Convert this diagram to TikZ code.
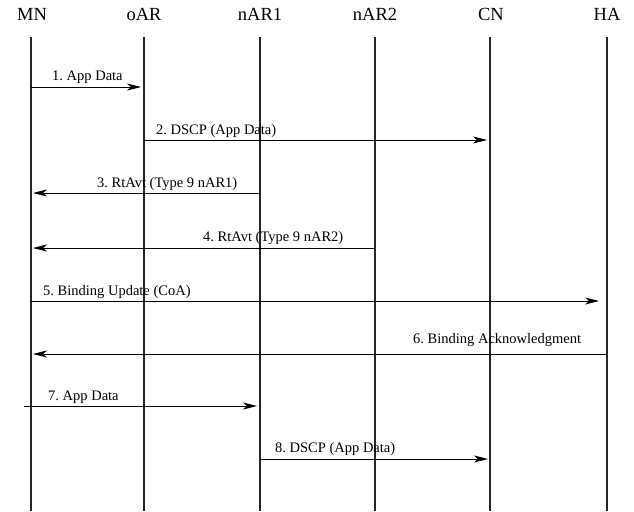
\documentclass[tikz,border=0pt]{standalone}
\usepackage{fontspec}
\setmainfont{Liberation Serif}
\usetikzlibrary{arrows.meta}
\frenchspacing
\begin{document}
\begin{tikzpicture}[x=1pt,y=-1pt,
  actor/.style={font=\fontsize{18.5}{20}\selectfont, anchor=base, inner sep=0pt},
  lifeline/.style={line width=1.3pt, draw=black!85},
  msg/.style={line width=0.9pt, -{Stealth[length=14pt,width=7pt,inset=4pt]}},
  msglabel/.style={font=\frenchspacing\fontsize{14.5}{16}\selectfont, anchor=base west, inner sep=0pt}]
\useasboundingbox (0,0) rectangle (634,511);

% participants
\node[actor] (mn)   at (32,21)  {MN};
\node[actor] (oar)  at (144,21) {oAR};
\node[actor] (nar1) at (260,21) {nAR1};
\node[actor] (nar2) at (375,21) {nAR2};
\node[actor] (cn)   at (491,21) {CN};
\node[actor] (ha)   at (607,21) {HA};

% lifelines
\foreach \n/\x in {mn/31,oar/144,nar1/260,nar2/375,cn/490,ha/607}{
  \coordinate (\n top) at (\x,37);
  \coordinate (\n bot) at (\x,511);
  \draw[lifeline] (\n top) -- (\n bot);
}

% message end points
\coordinate (m1a) at (31,87);   \coordinate (m1b) at (141,87);
\coordinate (m2a) at (144,140); \coordinate (m2b) at (487,140);
\coordinate (m3a) at (260,193); \coordinate (m3b) at (33,193);
\coordinate (m4a) at (375,248); \coordinate (m4b) at (33,248);
\coordinate (m5a) at (31,301);  \coordinate (m5b) at (599,301);
\coordinate (m6a) at (607,354); \coordinate (m6b) at (33,354);
\coordinate (m7a) at (24,406);  \coordinate (m7b) at (257,406);
\coordinate (m8a) at (260,459); \coordinate (m8b) at (488,459);

% messages
\draw[msg] (m1a) -- (m1b);
\draw[msg] (m2a) -- (m2b);
\draw[msg] (m3a) -- (m3b);
\draw[msg] (m4a) -- (m4b);
\draw[msg] (m5a) -- (m5b);
\draw[msg] (m6a) -- (m6b);
\draw[msg] (m7a) -- (m7b);
\draw[msg] (m8a) -- (m8b);

% message labels
\node[msglabel] (l1) at (52,81)   {1. App Data};
\node[msglabel] (l2) at (156,134) {2. DSCP (App Data)};
\node[msglabel] (l3) at (97,187)  {3. RtAvt (Type 9 nAR1)};
\node[msglabel] (l4) at (203,241) {4. RtAvt (Type 9 nAR2)};
\node[msglabel] (l5) at (43,295)  {5. Binding Update (CoA)};
\node[msglabel] (l6) at (413,343) {6. Binding Acknowledgment};
\node[msglabel] (l7) at (48,400)  {7. App Data};
\node[msglabel] (l8) at (275,452) {8. DSCP (App Data)};
\end{tikzpicture}
\end{document}
